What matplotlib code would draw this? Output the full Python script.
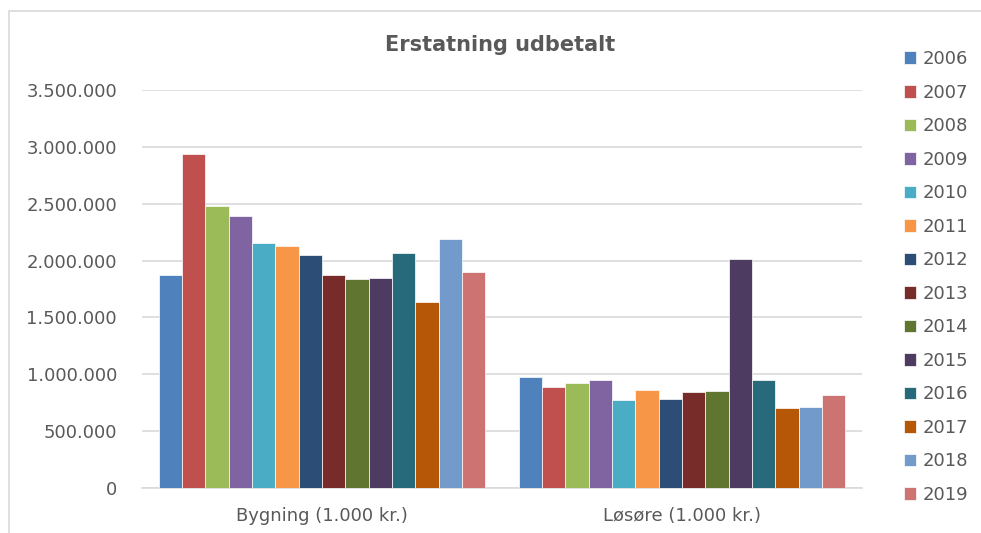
import numpy as np
import matplotlib
matplotlib.use("Agg")
import matplotlib.pyplot as plt
from matplotlib.ticker import FuncFormatter
from matplotlib.patches import Rectangle

# Data (1.000 kr.)
categories = ["Bygning (1.000 kr.)", "Løsøre (1.000 kr.)"]
years = ["2006", "2007", "2008", "2009", "2010", "2011", "2012",
         "2013", "2014", "2015", "2016", "2017", "2018", "2019"]
bygning = [1874000, 2937000, 2482000, 2391000, 2153000, 2130000, 2047000,
           1871000, 1836000, 1845000, 2068000, 1636000, 2191000, 1898000]
losore = [975000, 887000, 922000, 949000, 770000, 858000, 784000,
          840000, 849000, 2015000, 946000, 700000, 714000, 814000]
colors = ["#4F81BD", "#C0504D", "#9BBB59", "#8064A2", "#4BACC6", "#F79646",
          "#2C4D75", "#772C2A", "#5F7530", "#4D3B62", "#276A7C", "#B65708",
          "#729ACA", "#CD7371"]

text_col = "#595959"
grid_col = "#D9D9D9"

fig = plt.figure(figsize=(9.81, 5.33), dpi=100)
ax = fig.add_axes([0.1448, 0.0844, 0.7339, 0.7467])

# outer chart border (runs off the right and bottom edges)
fig.patches.append(Rectangle((9 / 981, -0.1), 1.2, 1.1 - 11.5 / 533,
                             transform=fig.transFigure, fill=False,
                             edgecolor=grid_col, linewidth=1.2))

n = len(years)
group_w = 0.908
bar_w = group_w / n
x = np.arange(len(categories))
handles = []
for i, yr in enumerate(years):
    vals = [bygning[i], losore[i]]
    b = ax.bar(x - group_w / 2 + bar_w * (i + 0.5), vals, width=bar_w,
               color=colors[i], edgecolor="white", linewidth=0.5,
               label=yr, zorder=3)
    handles.append(b)

ax.set_xlim(-0.5, 1.5)
ax.set_ylim(0, 3500000)
ax.set_yticks(np.arange(0, 3500001, 500000))
ax.yaxis.set_major_formatter(FuncFormatter(lambda v, p: f"{int(v):,}".replace(",", ".")))
ax.set_xticks(x)
ax.set_xticklabels(categories)
ax.tick_params(axis="both", length=0, labelsize=13, labelcolor=text_col)
ax.tick_params(axis="y", pad=18)
ax.tick_params(axis="x", pad=14)
ax.grid(axis="y", color=grid_col, linewidth=1.2, zorder=0)
for s in ["left", "right", "top"]:
    ax.spines[s].set_visible(False)
ax.spines["bottom"].set_color(grid_col)
ax.spines["bottom"].set_linewidth(1.2)

fig.text(0.51, 0.915, "Erstatning udbetalt", ha="center", va="center",
         fontsize=15, fontweight="bold", color=text_col)

leg = fig.legend(handles=handles, loc="upper left",
                 bbox_to_anchor=(0.921, 0.906), frameon=False,
                 fontsize=13, labelcolor=text_col, handlelength=0.7,
                 handleheight=0.7, handletextpad=0.35, labelspacing=0.86,
                 borderaxespad=0, borderpad=0)

fig.savefig("out.png", dpi=100)
